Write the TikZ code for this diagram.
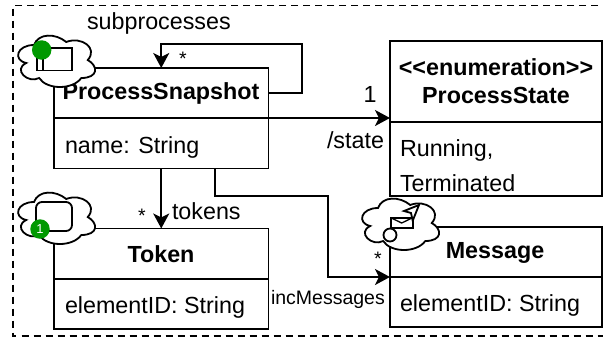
\documentclass[tikz,border=0pt]{standalone}
\usepackage{fontspec}
\setmainfont{Liberation Sans}
\usetikzlibrary{arrows.meta}
\newcommand{\cloudshape}[4]{%
  \begin{scope}[xshift=#1pt,yshift=-#2pt,x=#3pt,y=-#4pt]
    \draw[cloudline] (0.25,0.25) .. controls (0.05,0.25) and (0,0.5) .. (0.16,0.55)
      .. controls (0,0.66) and (0.18,0.9) .. (0.31,0.8)
      .. controls (0.4,1) and (0.7,1) .. (0.8,0.8)
      .. controls (1,0.8) and (1,0.6) .. (0.875,0.5)
      .. controls (1,0.3) and (0.8,0.1) .. (0.625,0.2)
      .. controls (0.5,0.05) and (0.3,0.05) .. (0.25,0.25) -- cycle;
  \end{scope}}
\tikzset{
  lw/.style={line width=1.8pt},
  cloudline/.style={lw,draw=black,fill=white},
  boxpart/.style={lw,draw=black,fill=white,rectangle,inner sep=0pt,outer sep=0pt,anchor=north west,minimum width=214.5pt},
  widepart/.style={boxpart,minimum width=212pt},
  conn/.style={lw,draw=black},
  arr/.style={conn,-{Stealth[length=15pt,width=16pt,inset=4pt]}},
  lab/.style={inner sep=0pt,outer sep=0pt,font=\fontsize{23.3}{23}\selectfont},
  blab/.style={lab,font=\fontsize{23.3}{23}\selectfont\bfseries},
  small/.style={lab,font=\fontsize{19.5}{20}\selectfont},
  icon/.style={lw,draw=black,fill=white},
  badge/.style={circle,fill=badgegreen,minimum size=19.5pt,inner sep=0pt,outer sep=0pt}
}
\definecolor{badgegreen}{HTML}{009900}
\begin{document}
\begin{tikzpicture}[x=1pt,y=-1pt]
\useasboundingbox (0,0) rectangle (603,338);
% frame
\draw[line width=1.5pt,black,dash pattern=on 7pt off 5pt] (610,5.5) -- (13,5.5) -- (13,336) -- (610,336);
% boxes
\node[boxpart,minimum height=50pt] (psHead) at (54,68) {};
\node[boxpart,minimum height=50.5pt] (psBody) at (54,118) {};
\node[boxpart,minimum height=50.5pt] (tkHead) at (54,228.5) {};
\node[boxpart,minimum height=50pt] (tkBody) at (54,279) {};
\node[widepart,minimum height=81pt] (stHead) at (390,41) {};
\node[widepart,minimum height=74pt] (stBody) at (390,122) {};
\node[widepart,minimum height=50pt] (msHead) at (390,227) {};
\node[widepart,minimum height=50pt] (msBody) at (390,277) {};
% connector helpers
\coordinate (loopCorner) at (302,44);
\coordinate (bendA) at (215,196);
\coordinate (bendB) at (328,196);
% connectors
\draw[arr] (psHead.east) -| (loopCorner) -| (psHead.north);
\draw[arr] (psHead.south east) -- (psHead.south east -| stHead.west);
\draw[arr] (psBody.south) -- (tkHead.north);
\draw[arr] (bendA |- psBody.south) -- (bendA) -- (bendB) |- (msHead.south west);
% texts
\node[blab] (t1) at (161,93) {ProcessSnapshot};
\node[lab,anchor=base west] (t2) at (65,153) {name: String};
\node[blab] (t3) at (496,67) {{<}{<}enumeration{>}{>}};
\node[blab] (t4) at (496,95) {ProcessState};
\node[lab,anchor=base west] (t5) at (400,156) {Running,};
\node[lab,anchor=base west] (t6) at (400,191) {Terminated};
\node[blab] (t7) at (161,254) {Token};
\node[lab,anchor=base west] (t8) at (65,313) {elementID: String};
\node[blab] (t9) at (495,253) {Message};
\node[lab,anchor=base west] (t10) at (400,311) {elementID: String};
\node[lab,anchor=base west] (l1) at (87,29) {subprocesses};
\node[small,anchor=base] (l2) at (183,65) {*};
\node[lab,anchor=base] (l3) at (370,102) {1};
\node[lab,anchor=base west] (l4) at (327,148) {/state};
\node[lab,anchor=base west] (l5) at (172,219) {tokens};
\node[small,anchor=base] (l6) at (142,222) {*};
\node[small,anchor=base] (l7) at (378,265) {*};
\node[small,anchor=base west] (l8) at (271,304) {incMessages};
% cloud 1
\cloudshape{12.5}{30}{86}{60}
\draw[icon] (37,48) rectangle (71.7,70.5);
\draw[lw] (43,48) -- (43,70.5);
\node[badge] (b1) at (41.7,50) {};
% cloud 2
\cloudshape{12.5}{187}{86}{60}
\draw[icon,rounded corners=6pt] (36,202) rectangle (72,231);
\node[badge,text=white,font=\fontsize{13}{13}\selectfont] (b2) at (40,229) {1};
% cloud 3
\cloudshape{356.5}{193}{86}{60}
\draw[icon] (390.7,217.7) rectangle (412.7,228.3);
\draw[line width=1.3pt] (390.7,217.7) -- (401.7,223) -- (412.7,217.7);
\draw[icon] (404,211) -- (419,205) -- (412.7,220.7) -- (411,213) -- cycle;
\draw[icon] (390,235) circle (6.5);
\end{tikzpicture}
\end{document}
